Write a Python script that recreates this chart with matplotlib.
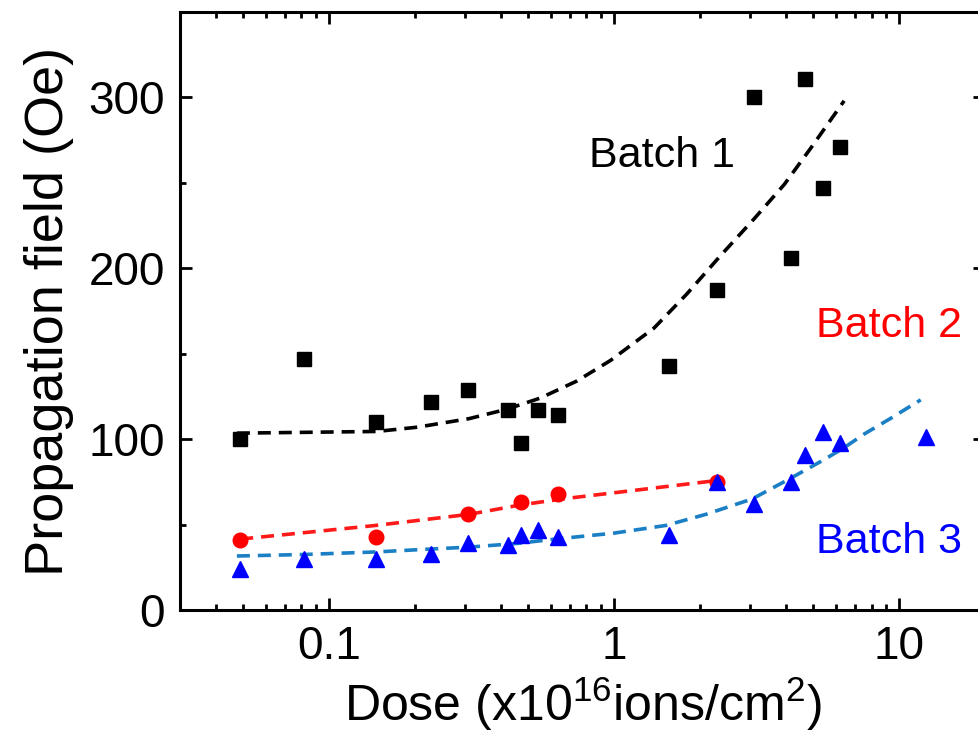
import matplotlib
matplotlib.use("Agg")
import matplotlib.pyplot as plt
from matplotlib.ticker import LogLocator, MultipleLocator, FixedLocator, FuncFormatter

plt.rcParams['font.family'] = ['Liberation Sans', 'DejaVu Sans']

# Batch 1 (black squares)
b1_x = [0.0488, 0.082, 0.146, 0.228, 0.308, 0.425, 0.472, 0.541, 0.636, 1.56, 2.30, 3.10, 4.18, 4.68, 5.41, 6.21]
b1_y = [100, 147, 110, 122, 129, 117, 98, 117, 114, 143, 187, 300, 206, 311, 247, 271]
# Batch 2 (red circles)
b2_x = [0.0488, 0.146, 0.308, 0.472, 0.636, 2.30]
b2_y = [41, 43, 56, 63, 68, 75]
# Batch 3 (blue triangles)
b3_x = [0.0488, 0.082, 0.146, 0.228, 0.308, 0.425, 0.472, 0.541, 0.636, 1.56, 2.30, 3.10, 4.18, 4.68, 5.41, 6.21, 12.4]
b3_y = [24, 30, 30, 33, 39, 38, 44, 47, 43, 44, 75, 62, 75, 91, 104, 98, 101]

# Fit curves
f1_x = [0.0475, 0.147, 0.204, 0.31, 0.42, 0.55, 0.74, 0.97, 1.38, 1.80, 2.35, 3.10, 3.95, 4.88, 6.41]
f1_y = [103.5, 104.5, 107, 112, 117.5, 124, 134, 146, 165, 185, 207, 229, 249, 270, 298]
f2_x = [0.0488, 0.146, 0.31, 0.47, 0.658, 2.35]
f2_y = [41.5, 49.5, 56, 61.5, 65, 76]
f3_x = [0.0475, 0.082, 0.147, 0.228, 0.31, 0.46, 0.62, 1.0, 1.52, 2.10, 3.05, 4.11, 5.45, 6.41, 7.54, 9.3, 11.9]
f3_y = [31.6, 32.5, 34, 35.7, 36.8, 39, 41.5, 45, 49.5, 56, 65, 76.6, 88, 95, 103, 112, 123]

labels = ["Batch 1", "Batch 2", "Batch 3"]
x_ticks = [0.1, 1, 10]
x_tick_labels = ["0.1", "1", "10"]
y_ticks = [0, 100, 200, 300]

fig = plt.figure(figsize=(9.79, 7.35), dpi=100)
ax = fig.add_axes([180/979, 125/735, 805/979, 598/735])

dash = (3.6, 2.2)
l1, = ax.plot(f1_x, f1_y, color='black', lw=2.6)
l2, = ax.plot(f2_x, f2_y, color='#ff1a1a', lw=2.6)
l3, = ax.plot(f3_x, f3_y, color='#1a7fc4', lw=2.6)
for l in (l1, l2, l3):
    l.set_dashes(dash)

ax.plot(b1_x, b1_y, 's', color='black', ms=9.5, ls='none')
ax.plot(b2_x, b2_y, 'o', color='#ff0000', ms=10.5, ls='none')
ax.plot(b3_x, b3_y, '^', color='#0000ff', ms=11, ls='none')

ax.set_xscale('log')
ax.set_xlim(0.03, 20)
ax.set_ylim(0, 350)

ax.xaxis.set_major_locator(FixedLocator(x_ticks))
ax.xaxis.set_major_formatter(FuncFormatter(lambda v, p: x_tick_labels[x_ticks.index(v)] if v in x_ticks else ""))
ax.xaxis.set_minor_locator(LogLocator(base=10, subs=[2, 3, 4, 5, 6, 7, 8, 9], numticks=20))
ax.xaxis.set_minor_formatter(FuncFormatter(lambda v, p: ""))
ax.yaxis.set_major_locator(FixedLocator(y_ticks))
ax.yaxis.set_minor_locator(MultipleLocator(50))

ax.tick_params(which='both', direction='in', top=True, right=True, width=2.0)
ax.tick_params(which='major', length=8.5, labelsize=33, pad=11)
ax.tick_params(which='minor', length=4.2)

for s in ax.spines.values():
    s.set_linewidth(2.2)

ax.set_xlabel(r'Dose (x10$^{\mathregular{16}}$ions/cm$^{\mathregular{2}}$)', fontsize=36, labelpad=4)
ax.set_ylabel('Propagation field (Oe)', fontsize=39, labelpad=10)

ax.text(1.47, 266, labels[0], color='black', fontsize=31, ha='center', va='center')
ax.text(9.23, 166, labels[1], color='#ff0000', fontsize=31, ha='center', va='center')
ax.text(9.23, 40, labels[2], color='#0000ff', fontsize=31, ha='center', va='center')

fig.savefig('out.png', dpi=100)
